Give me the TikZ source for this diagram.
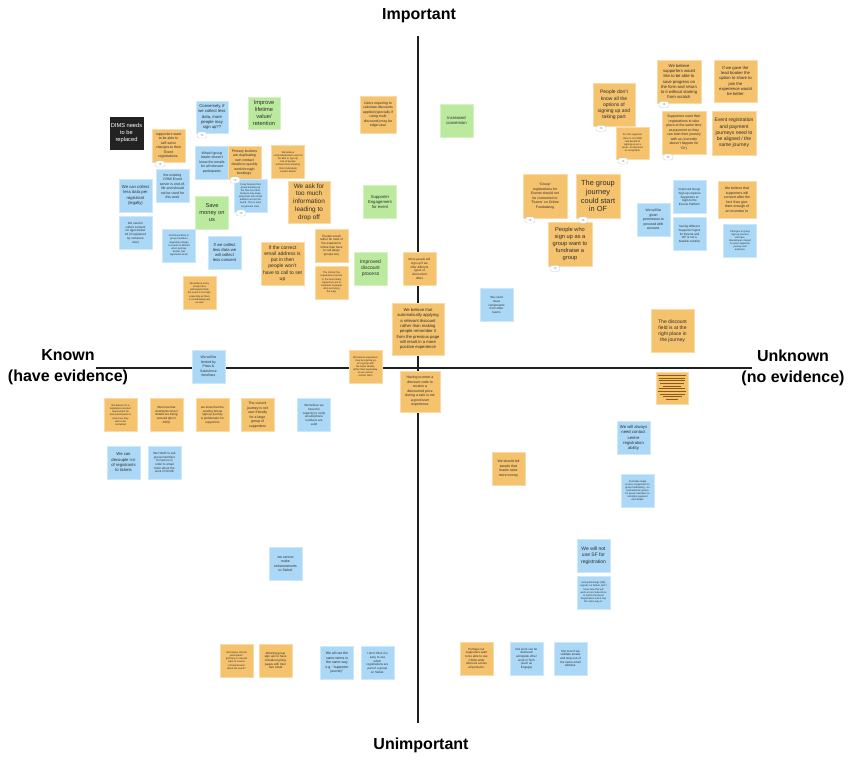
\documentclass[tikz,border=0pt]{standalone}
\usepackage{fontspec}
\setmainfont{Liberation Sans}
\definecolor{stickyO}{HTML}{F5C26E}
\definecolor{stickyB}{HTML}{ABD8F6}
\definecolor{stickyG}{HTML}{BBEA9E}
\definecolor{stickyK}{HTML}{222222}
\definecolor{inkC}{HTML}{2E2E2E}
\definecolor{axisC}{HTML}{1F1F1F}
\definecolor{badgeC}{HTML}{C3D2EA}
\definecolor{lineC}{HTML}{8A5A1A}
\tikzset{
  note/.style={inner sep=0pt, align=center, text=inkC, minimum width=33, minimum height=33, line width=0.5pt},
  ornote/.style={note, fill=stickyO, draw=stickyO!60!white},
  blnote/.style={note, fill=stickyB, draw=stickyB!60!white},
  grnote/.style={note, fill=stickyG, draw=stickyG!60!white},
  bknote/.style={note, fill=stickyK, draw=stickyK, text=white},
  boxwh/.style 2 args={minimum width=#1, minimum height=#2},
  sz1/.style={font=\fontsize{2.5}{3.1}\selectfont},
  sz2/.style={font=\fontsize{3.0}{3.7}\selectfont},
  sz3/.style={font=\fontsize{3.5}{4.5}\selectfont},
  sz4/.style={font=\fontsize{4.2}{5.3}\selectfont},
  sz5/.style={font=\fontsize{5.0}{6.2}\selectfont},
  sz6/.style={font=\fontsize{5.7}{6.8}\selectfont},
  sz7/.style={font=\fontsize{6.4}{7.7}\selectfont},
  sz8/.style={font=\fontsize{7.4}{8.7}\selectfont},
  badge/.style={draw=badgeC, fill=white, rounded corners=2.5, minimum width=10, minimum height=6, inner sep=0pt, line width=0.4pt, font=\fontsize{3}{3}\selectfont, text=inkC!70},
  axislabel/.style={font=\bfseries\fontsize{16}{21}\selectfont, text=black, align=center, inner sep=0pt},
  axisline/.style={draw=axisC, line width=2.6pt},
  txtline/.style={draw=lineC, line width=0.8pt}
}
\begin{document}
\begin{tikzpicture}[x=1pt,y=-1pt]
\fill[white] (0,0) rectangle (862,772);
\useasboundingbox (0,0) rectangle (862,772);

% axis labels
\node[axislabel] (imp) at (419,16) {Important};
\node[axislabel] (unimp) at (421,745) {Unimportant};
\node[axislabel] (known) at (68,367.5) {Known\\(have evidence)};
\node[axislabel] (unknown) at (793,367.5) {Unknown\\(no evidence)};
\coordinate (vtop) at (418,36);
\coordinate (vbot) at (418,723);
\coordinate (hleft) at (96,368);
\coordinate (hright) at (752,368);
\draw[axisline] (vtop) -- (vbot);
\draw[axisline] (hleft) -- (hright);

% ---------- top-left quadrant ----------
\node[bknote, sz6, boxwh={33}{32}] (dims) at (126.5,133) {DIMS needs\\to be\\replaced};
\node[ornote, sz3] (o1) at (168.5,145.5) {supporters want\\to be able to\\self-serve\\changes to their\\Event\\registrations.};
\node[blnote, sz4, boxwh={32}{32}] (l1) at (212,117) {Conversely, if\\we collect less\\data, more\\people may\\sign up??};
\node[grnote, sz6, boxwh={32}{32}] (g1) at (264,113) {Improve\\lifetime\\value/\\retention};
\node[blnote, sz3] (l2) at (212,162.5) {What if group\\leader doesn't\\know the emails\\for all relevant\\participants};
\node[ornote, sz3] (o2) at (244.5,162.5) {Primary bookers\\are duplicating\\own contact\\details to quickly\\work through\\bookings.};
\node[ornote, sz1] (o3) at (288,162) {We believe\\corporate/bookers want to\\be able to sign up\\lots of people\\without them knowing\\their (individual)\\contact details};
\node[blnote, sz1] (l3) at (250.5,195.5) {If any bookers find\\group booking up\\the flow too hard,\\bookers may keep\\using their own email\\address across the\\board. This is seen\\as genuine sites.};
\node[blnote, sz3] (l4) at (172.5,186) {the existing\\CRM/ Event\\server is end-of-\\life and should\\not be used for\\this work};
\node[blnote, sz4] (l5) at (135.5,195.5) {We can collect\\less data per\\registrant\\(legally)};
\node[grnote, sz6] (g2) at (212,212.5) {Save\\money on\\us};
\node[ornote, sz7, boxwh={42}{42}] (o4) at (309,202) {We ask for\\too much\\information\\leading to\\drop off};
\node[blnote, sz2] (l6) at (135.5,233) {We need to\\collect consent\\for ages below\\16 (if registered\\by someone\\else)};
\node[blnote, sz1] (l7) at (179,245.5) {Communication to\\group members\\regarding change\\to events is difficult\\when primary\\booker has\\registered email.};
\node[blnote, sz4] (l8) at (224.5,252.5) {If we collect\\less data we\\will collect\\less consent};
\node[ornote, sz5, boxwh={43}{43}] (o5) at (282.5,263.5) {If the correct\\email address is\\put in then\\people won't\\have to call to set\\up};
\node[ornote, sz1] (o6) at (199.5,293) {We believe many\\prospective\\participants think\\the event is too high,\\especially as there\\is a fundraising ask\\as well};
\node[ornote, sz3, boxwh={36}{37}] (o7) at (378,114.5) {Users requiring to\\calculate discounts\\applied (specially if\\using multi\\discounts) may be\\edge case};
\node[grnote, sz4] (g3) at (380,202) {Supporter\\Engagement\\for event};
\node[ornote, sz2] (o8) at (331.5,245.5) {People would\\rather do most of\\the experience\\online than have\\to call (large\\groups too)};
\node[ornote, sz1] (o9) at (331.5,282.5) {The shorter the\\registration process\\is, the more likely\\supporters are to\\complete it (people\\drop out along\\the way)};
\node[grnote, sz5] (g4) at (370.5,268.5) {Improved\\discount\\process};
\node[ornote, sz2] (o10) at (419.5,269) {More people will\\sign up if we\\offer different\\types of\\discounted\\offers};
\node[ornote, sz4, boxwh={52}{52}] (o11) at (418,329) {We believe that\\automatically applying\\a relevant discount\\rather than making\\people remember it\\from the previous page\\will result in a more\\positive experience};
\node[ornote, sz1] (o13) at (365.5,366.5) {We believe supporters\\may be signing up\\as a group with\\the same details,\\rather than separately,\\so we cannot\\contact them};

% ---------- top-right quadrant ----------
\node[grnote, sz4] (g5) at (456.5,120.5) {Increased\\conversion};
\node[ornote, sz5, boxwh={42}{43}] (o14) at (614,105) {People don't\\know all the\\options of\\signing up and\\taking part};
\node[ornote, sz1, boxwh={33}{32}] (o15) at (632.5,143) {For the supporter\\there is no CRM/\\real benefit of\\signing up as a\\team - so discount\\or recognition};
\node[ornote, sz3, boxwh={44}{44}] (o16) at (545,196) {`Group'\\registrations for\\Events should not\\be connected to\\`Teams' on Online\\Fundraising};
\node[ornote, sz8, boxwh={44}{44}] (o17) at (598,196) {The group\\journey\\could start\\in OF};
\node[ornote, sz6, boxwh={44}{44}] (o18) at (570,244) {People who\\sign up as a\\group want to\\fundraise a\\group};
\node[ornote, sz4, boxwh={44}{43}] (o19) at (679,81.5) {We believe\\supporters would\\like to be able to\\save progress on\\the form and return\\to it without starting\\from scratch};
\node[ornote, sz4, boxwh={43}{42}] (o20) at (735.5,81) {If we gave the\\lead booker the\\option to share to\\join the\\experience would\\be better};
\node[ornote, sz3, boxwh={44}{43}] (o21) at (684,132.5) {Supporters want their\\registrations to take\\place at the same time\\as payment so they\\can start their journey\\with us (currently\\doesn't happen for\\`Gr')};
\node[ornote, sz5, boxwh={44}{44}] (o22) at (734,133) {Event registration\\and payment\\journeys need to\\be aligned / the\\same journey};
\node[blnote, sz2] (l10) at (689.5,197) {Improved Group\\Sign-up requires\\Supporters to\\login to the\\Events Platform};
\node[ornote, sz3, boxwh={38}{37}] (o23) at (737,199.5) {We believe that\\supporters will\\consent after the\\fact if we give\\them enough of\\an incentive to};
\node[blnote, sz3] (l11) at (653.5,219.5) {We will be\\given\\permission to\\proceed with\\account.};
\node[blnote, sz2] (l12) at (689.5,234) {having different\\Supporter logins\\for Events and\\OF is not a\\feasible solution};
\node[blnote, sz1] (l13) at (740,240.5) {Changes to group\\sign up process\\will have\\downstream impact\\to event supporter\\journey and\\audience};
\node[blnote, sz2] (l9) at (496.5,305) {We could\\reuse\\components\\from other\\teams};
\node[ornote, sz5, boxwh={43}{43}] (o24) at (672.5,331) {The discount\\field is at the\\right place in\\the journey};

% badges
\node[badge] (b1) at (160,164) {+1};
\node[badge] (b2) at (202,135) {+1};
\node[badge] (b3) at (235,180) {+1};
\node[badge] (b4) at (241,213) {+1};
\node[badge] (b5) at (601,128.5) {+1};
\node[badge] (b6) at (623,161) {+1};
\node[badge] (b7) at (530,220) {+1};
\node[badge] (b8) at (583,220) {+1};
\node[badge] (b9) at (555,268.5) {+1};
\node[badge] (b10) at (664,104.5) {+1};
\node[badge] (b11) at (668,157) {+1};

% ---------- bottom-left quadrant ----------
\node[ornote, sz3, boxwh={40}{41}] (o12) at (420,391.5) {Having to enter a\\discount code to\\receive a\\discounted price\\during a sale is not\\a good user\\experience};
\node[blnote, sz3] (l14) at (208.5,366.5) {We will be\\limited by\\Pitsis \&\\Salesforce\\timelines};
\node[ornote, sz1] (o26) at (120.5,415) {We believe it's a\\legislative/ product\\requirement for\\teen participants to\\state how they\\wish to be\\contacted};
\node[ornote, sz2] (o27) at (166.5,415) {We know that\\dummy/incorrect\\details are being\\entered (Qs in\\2015)};
\node[ornote, sz2] (o28) at (212.5,415) {we know that the\\existing Group\\sign up journey\\is problematic for\\supporters};
\node[ornote, sz3] (o29) at (257.5,415) {The current\\journey is not\\user friendly\\for a large\\group of\\supporters};
\node[blnote, sz2] (l15) at (314,415) {We believe we\\have the\\capacity to verify\\emails/phone\\numbers are\\valid};
\node[blnote, sz4] (l16) at (123.5,462.5) {We can\\decouple n:n\\of registrants\\to tickets};
\node[blnote, sz2] (l17) at (164.5,462.5) {We HAVE to ask\\group members\\for opt ins in\\order to email\\them about the\\work of CRUK};
\node[blnote, sz3] (l20) at (285.5,564) {we cannot\\make\\enhancements\\to Siebel};
\node[ornote, sz1] (o31) at (236.5,660.5) {We believe that all\\participants'\\(primary or not) will\\want to receive\\communication\\about the event?};
\node[ornote, sz2] (o32) at (275.5,660.5) {Allowing group\\sign ups to have\\individual giving\\pages with their\\own email};
\node[blnote, sz3] (l23) at (337,663) {We all use the\\same terms in\\the same way\\e.g. ``supporter\\journey''};
\node[blnote, sz2] (l24) at (377.5,663) {I don't think it is\\easy to see\\which\\registrations are\\part of a group\\on Siebel.};

% ---------- bottom-right quadrant ----------
\node[ornote, boxwh={32}{32}] (o25) at (672,388) {};
\draw[txtline] ([shift={(-14,-12.3)}]o25.center) -- ([shift={(14,-12.3)}]o25.center);
\draw[txtline] ([shift={(-13,-9.7)}]o25.center) -- ([shift={(13,-9.7)}]o25.center);
\draw[txtline] ([shift={(-13.3,-7.3)}]o25.center) -- ([shift={(13.3,-7.3)}]o25.center);
\draw[txtline] ([shift={(-11.7,-4.7)}]o25.center) -- ([shift={(11.7,-4.7)}]o25.center);
\draw[txtline] ([shift={(-9,-2)}]o25.center) -- ([shift={(9,-2)}]o25.center);
\draw[txtline] ([shift={(-13.3,0.7)}]o25.center) -- ([shift={(13.3,0.7)}]o25.center);
\draw[txtline] ([shift={(-14,3.7)}]o25.center) -- ([shift={(14,3.7)}]o25.center);
\draw[txtline] ([shift={(-12.5,6)}]o25.center) -- ([shift={(12.5,6)}]o25.center);
\draw[txtline] ([shift={(-9.5,8.7)}]o25.center) -- ([shift={(9.5,8.7)}]o25.center);
\draw[txtline] ([shift={(-6,11.3)}]o25.center) -- ([shift={(6,11.3)}]o25.center);
\node[blnote, sz4] (l18) at (633.5,438) {We will always\\need contact\\centre\\registration\\ability};
\node[blnote, sz1] (l19) at (637.5,490.5) {Currently single\\source of payment for\\group fundraising - no\\international system\\for group members to\\complete payment\\and details};
\node[ornote, sz3] (o30) at (508.5,468.5) {We should tell\\people that\\teams raise\\more money};
\node[blnote, sz5] (l21) at (593.5,555.5) {We will not\\use SF for\\registration};
\node[blnote, sz1] (l22) at (593.5,592.5) {Group Bookings (GB)\\register on Siebel, don't\\know how this will\\work across Salesforce\\to match the Event\\Registration until it has\\the same way in.};
\node[ornote, sz2] (o33) at (476.5,658.5) {Perhaps our\\supporters want\\to be able to use\\CRUK-wide\\discount across\\all products.};
\node[blnote, sz2] (l25) at (526.5,658.5) {this work can be\\delivered\\alongside other\\work in Tech\\(such as\\Engage)};
\node[blnote, sz2] (l26) at (570.5,658.5) {Not sure if we\\validate emails\\and stop use of\\the same email\\address.};
\end{tikzpicture}
\end{document}
